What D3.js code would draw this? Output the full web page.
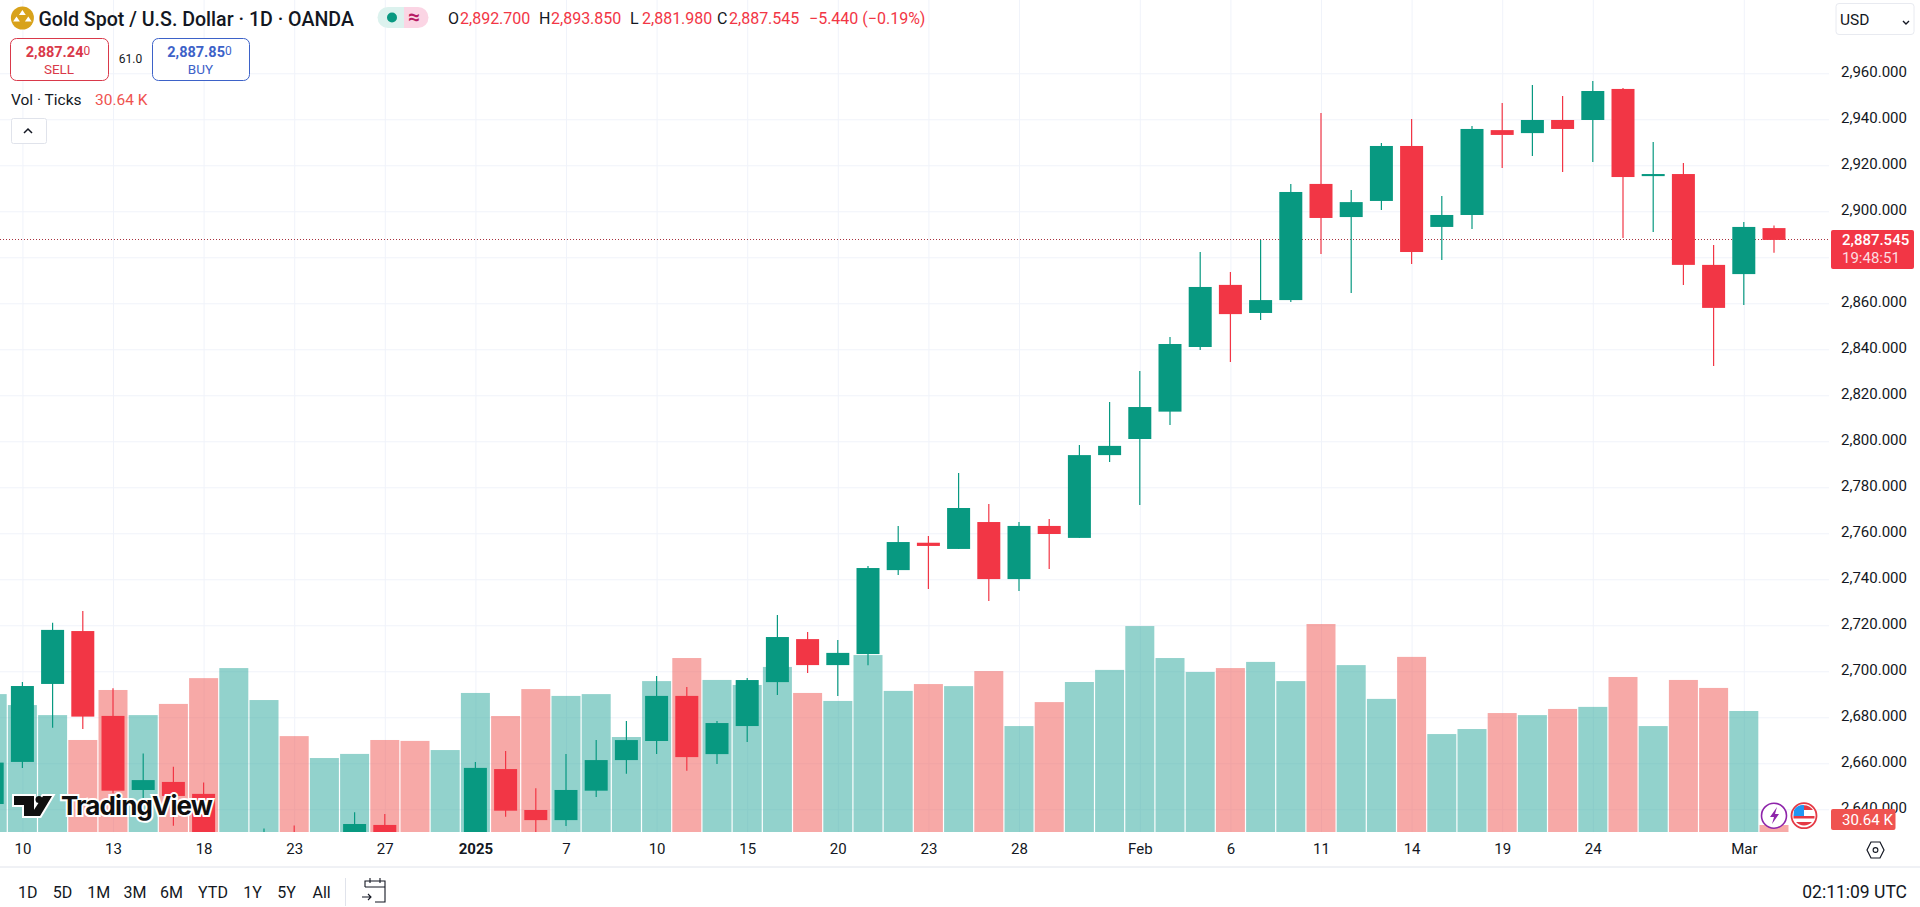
<!DOCTYPE html>
<html>
<head>
<meta charset="utf-8">
<title>Gold Spot / U.S. Dollar</title>
<script src="https://cdn.jsdelivr.net/npm/d3@7/dist/d3.min.js"></script>
<style>
    html, body { margin: 0; padding: 0; background: #fff; overflow: hidden; }
    svg { display: block; }
    text { font-family: Roboto, "Noto Sans", sans-serif; fill: #131722; }
</style>
</head>
<body>
<svg id="chart" width="1920" height="907"></svg>
<script>
// daily bars, 9 Dec 2024 to 4 Mar 2025
const dates = ["12-09","12-10","12-11","12-12","12-13","12-16","12-17","12-18","12-19","12-20",
    "12-23","12-24","12-26","12-27","12-30","12-31","01-02","01-03","01-06","01-07",
    "01-08","01-09","01-10","01-13","01-14","01-15","01-16","01-17","01-20","01-21",
    "01-22","01-23","01-24","01-27","01-28","01-29","01-30","01-31","02-03","02-04",
    "02-05","02-06","02-07","02-10","02-11","02-12","02-13","02-14","02-17","02-18",
    "02-19","02-20","02-21","02-24","02-25","02-26","02-27","02-28","03-03","03-04"];

const opens = [2642.3,2660.6,2694.5,2717.5,2680.6,2648.4,2651.9,2646.7,2586,2594,
    2622,2612,2619,2633.2,2621,2606,2624,2657.5,2639.7,2635.3,
    2648.1,2661.4,2669.7,2689.3,2664,2676.2,2695.3,2714,2702.7,2707.5,
    2744,2755.9,2753.2,2764.9,2740.1,2763.2,2758,2794,2801,2812.9,
    2841,2868,2855.8,2861.4,2911.9,2897.5,2904.5,2928.4,2893.2,2898.4,
    2935.3,2934,2939.7,2939.7,2953.2,2915.3,2916.2,2876.7,2872.7,2892.7];
const highs = [2664,2695.3,2721.1,2726.2,2692.6,2664.3,2658.5,2651.6,2610,2631.7,
    2633,2626,2638.7,2638,2627,2625,2660.6,2665.3,2649.1,2664,
    2670.1,2678.4,2698,2693.2,2678.4,2697.1,2724.5,2717.1,2713.6,2745.8,
    2763.2,2758.8,2786.2,2772.7,2764.9,2766.2,2798.4,2817.1,2830.6,2845.3,
    2882.3,2873.6,2887.5,2911.9,2942.7,2909.3,2929.7,2940.1,2906.7,2937.1,
    2947.1,2954.9,2950.1,2956.7,2953.6,2930.1,2921,2885.3,2895.3,2893.85];
const lows = [2638,2658,2675.5,2674.9,2647,2644.9,2632.9,2583,2583,2583,
    2600,2610,2615,2615,2597,2598,2618,2636.8,2624,2632.7,
    2645.3,2655.5,2664,2656.8,2659.7,2669.3,2689.7,2699.3,2689.3,2702.6,
    2741.9,2735.8,2753.2,2730.6,2734.9,2744.5,2758,2791,2772.3,2807.1,
    2839.7,2834.5,2852.7,2860.6,2881.4,2864.5,2900.6,2877.1,2878.8,2892.3,
    2918.8,2924,2917.1,2921.4,2888.4,2891,2868,2832.7,2859.3,2881.98];
const closes = [2660.3,2693.6,2718,2680.3,2648.1,2652.7,2645.8,2586,2594,2622,
    2612,2619,2633.6,2621,2606,2624,2658,2639.4,2635.3,2648.4,
    2661.4,2670.1,2689.3,2662.7,2677.5,2696.2,2714.9,2702.7,2708,2744.9,
    2756.2,2754.5,2771,2740.1,2763.2,2759.7,2794,2798,2814.9,2842.3,
    2867.1,2855.3,2861.4,2908.4,2897.1,2904,2928.4,2882.3,2898.4,2935.8,
    2933.2,2939.7,2935.8,2952.3,2914.9,2916.2,2876.7,2858,2893.2,2887.545];
const volumes = [604,556,512,403,622,512,561,674,718,578,
    420,324,342,403,399,359,609,508,626,596,
    604,416,661,762,666,644,723,609,574,775,
    618,648,639,705,464,569,657,710,902,762,
    701,718,745,661,911,731,583,767,429,451,
    521,512,539,548,679,464,666,631,530,30.64];

const tickDates = ["12-10","12-13","12-18","12-23","12-27","01-02","01-07","01-10","01-15","01-20",
    "01-23","01-28","02-03","02-06","02-11","02-14","02-19","02-24","03-03"];
const tickLabels = ["10","13","18","23","27","2025","7","10","15","20",
    "23","28","Feb","6","11","14","19","24","Mar"];
const priceTicks = [2960,2940,2920,2900,2880,2860,2840,2820,2800,2780,2760,2740,2720,2700,2680,2660,2640];
const lastPrice = 2887.545;

const rangeButtons = ["1D","5D","1M","3M","6M","YTD","1Y","5Y","All"];
const rangeCenters = [27.8,62.4,98.8,135,171.4,213,252.6,286.5,321.6];

const upColor = "#089981", downColor = "#f23645";
const volUp = "#26a69a", volDown = "#ef5350";
const gridColor = "#f0f3fa";

const chartRight = 1829, chartBottom = 832, axisLine = 867;
const bodyWidth = 23, volWidth = 29;

const svg = d3.select("#chart");

const x_scale = d3.scalePoint().domain(dates).range([-7.8, 1774]);
const y_scale = d3.scaleLinear().domain([2960, 2640]).range([73.3, 809.3]);
const vol_scale = d3.scaleLinear().domain([0, 1000]).range([chartBottom, chartBottom - 228.3]);

const bars = dates.map((d, i) => ({date: d, o: opens[i], h: highs[i], l: lows[i], c: closes[i], v: volumes[i]}));

svg.append("clipPath").attr("id", "pane").append("rect")
    .attr("width", chartRight).attr("height", chartBottom);

// grid + axes
const yAxis = svg.append("g")
    .attr("transform", "translate(" + chartRight + ",0)")
    .call(d3.axisRight(y_scale).tickValues(priceTicks).tickSize(-chartRight).tickPadding(12).tickFormat(d3.format(",.3f")));
yAxis.select(".domain").remove();
yAxis.selectAll("line").attr("stroke", gridColor);
yAxis.selectAll("text").attr("dy", "0.2em").style("font-size", "15px");
// the last price box covers this label
yAxis.selectAll("text").filter(d => d === 2880).remove();

const labelOf = d => tickLabels[tickDates.indexOf(d)];
const xAxis = svg.append("g")
    .attr("transform", "translate(0," + chartBottom + ")")
    .call(d3.axisBottom(x_scale).tickValues(tickDates).tickSize(-chartBottom).tickPadding(11).tickFormat(labelOf));
xAxis.select(".domain").remove();
xAxis.selectAll("line").attr("stroke", gridColor);
xAxis.selectAll("text")
    .style("font-size", "15px")
    .style("font-weight", d => labelOf(d) === "2025" ? "700" : "400");

svg.append("line").attr("x1", 0).attr("x2", 1920).attr("y1", axisLine).attr("y2", axisLine)
    .attr("stroke", "#e0e3eb").attr("stroke-width", 1);

const pane = svg.append("g").attr("clip-path", "url(#pane)");

// volume
pane.append("g").selectAll("rect")
    .data(bars)
    .enter()
    .append("rect")
    .attr("x", d => x_scale(d.date) - volWidth / 2)
    .attr("width", volWidth)
    .attr("y", d => vol_scale(d.v))
    .attr("height", d => chartBottom - vol_scale(d.v))
    .attr("fill", d => d.c >= d.o ? volUp : volDown)
    .attr("fill-opacity", 0.5);

// last price line
pane.append("line")
    .attr("x1", 0).attr("x2", chartRight)
    .attr("y1", y_scale(lastPrice)).attr("y2", y_scale(lastPrice))
    .attr("stroke", "#a8323f").attr("stroke-width", 1).attr("stroke-dasharray", "1 2")
    .attr("shape-rendering", "crispEdges");

// candles
const candles = pane.append("g").selectAll("g").data(bars).enter().append("g");
candles.append("line")
    .attr("x1", d => x_scale(d.date)).attr("x2", d => x_scale(d.date))
    .attr("y1", d => y_scale(d.h)).attr("y2", d => y_scale(d.l))
    .attr("stroke", d => d.c >= d.o ? upColor : downColor)
    .attr("stroke-width", 1.2);
candles.append("rect")
    .attr("x", d => x_scale(d.date) - bodyWidth / 2)
    .attr("width", bodyWidth)
    .attr("y", d => y_scale(Math.max(d.o, d.c)))
    .attr("height", d => Math.max(1.5, Math.abs(y_scale(d.o) - y_scale(d.c))))
    .attr("fill", d => d.c >= d.o ? upColor : downColor);

// TradingView logo
const logo = svg.append("g");
logo.append("path")
    .attr("d", "M14 796h20v20h-10v-11h-10z M43 796h9l-12 20h-10z")
    .attr("fill", "#0f0f0f").attr("stroke", "#fff").attr("stroke-width", 4).attr("paint-order", "stroke");
logo.append("circle").attr("cx", 39).attr("cy", 799.5).attr("r", 3.5).attr("fill", "#0f0f0f");
logo.append("text").attr("x", 61).attr("y", 815)
    .text("TradingView")
    .style("font-family", "Inter, Roboto, sans-serif")
    .style("font-size", "26px").style("font-weight", "700").style("letter-spacing", "-0.9px")
    .style("fill", "#0f0f0f").style("stroke", "#fff").style("stroke-width", "4px").style("paint-order", "stroke");

// header
svg.append("circle").attr("cx", 22.4).attr("cy", 18).attr("r", 11.5).attr("fill", "#d8a21b");
svg.append("path").attr("d", "M22.4 10l3.4 5h-6.8z M16.5 16.5l3.4 5h-6.8z M28.3 16.5l3.4 5h-6.8z").attr("fill", "#fff");
svg.append("text").attr("x", 38.5).attr("y", 25.5).text("Gold Spot / U.S. Dollar · 1D · OANDA")
    .style("font-size", "19.6px").style("font-weight", "500");

svg.append("path").attr("d", "M388 7h16v21h-16a10.5 10.5 0 0 1 0 -21z").attr("fill", "#dcf2ee");
svg.append("path").attr("d", "M404 7h14a10.5 10.5 0 0 1 0 21h-14z").attr("fill", "#fbd5e4");
svg.append("circle").attr("cx", 392).attr("cy", 17.5).attr("r", 5).attr("fill", upColor);
svg.append("text").attr("x", 414).attr("y", 24).attr("text-anchor", "middle").text("≈")
    .style("font-size", "21px").style("font-weight", "700").style("fill", "#b71c64");

const ohlcParts = [["O", 448, "2,892.700"], ["H", 539, "2,893.850"], ["L", 630, "2,881.980"], ["C", 717, "2,887.545"]];
ohlcParts.forEach(p => {
    svg.append("text").attr("x", p[1]).attr("y", 24).text(p[0]).style("font-size", "16px");
    svg.append("text").attr("x", p[1] + 12).attr("y", 24).text(p[2]).style("font-size", "16px").style("fill", downColor);
});
svg.append("text").attr("x", 809).attr("y", 24).text("−5.440 (−0.19%)").style("font-size", "16px").style("fill", downColor);

// sell / buy boxes
const tradeBox = function(x, w, color, whole, label) {
    svg.append("rect").attr("x", x + 0.5).attr("y", 38.5).attr("width", w).attr("height", 42).attr("rx", 6)
        .attr("fill", "#fff").attr("stroke", color);
    const t = svg.append("text").attr("x", x + w / 2 - 1).attr("y", 57).attr("text-anchor", "middle")
        .style("font-size", "14.5px").style("fill", color);
    t.append("tspan").text(whole).style("font-weight", "700").style("fill", color);
    t.append("tspan").text("0").attr("dy", -2).style("font-size", "12px").style("fill", color);
    svg.append("text").attr("x", x + w / 2).attr("y", 74).attr("text-anchor", "middle").text(label)
        .style("font-size", "13.5px").style("fill", color);
};
tradeBox(10, 98, "#d9394a", "2,887.24", "SELL");
tradeBox(152, 97, "#3d62c8", "2,887.85", "BUY");
svg.append("text").attr("x", 130.5).attr("y", 63).attr("text-anchor", "middle").text("61.0").style("font-size", "12px");

svg.append("text").attr("x", 11).attr("y", 105).text("Vol · Ticks").style("font-size", "15.5px");
svg.append("text").attr("x", 95).attr("y", 105).text("30.64 K").style("font-size", "15.5px").style("fill", volDown);
svg.append("rect").attr("x", 11.5).attr("y", 118.5).attr("width", 35).attr("height", 25).attr("rx", 2)
    .attr("fill", "#fff").attr("stroke", "#e0e3eb");
svg.append("path").attr("d", "M24 133l4 -4 4 4").attr("fill", "none").attr("stroke", "#131722").attr("stroke-width", 1.5);

// right side labels
svg.append("rect").attr("x", 1836).attr("y", 3.5).attr("width", 78).attr("height", 31).attr("rx", 3)
    .attr("fill", "#fff").attr("stroke", "#e8eaf0");
svg.append("text").attr("x", 1840).attr("y", 25).text("USD").style("font-size", "15.5px");
svg.append("path").attr("d", "M1903 21l3 3 3 -3").attr("fill", "none").attr("stroke", "#131722").attr("stroke-width", 1.4);

svg.append("rect").attr("x", 1831).attr("y", 230).attr("width", 83).attr("height", 39).attr("rx", 2).attr("fill", downColor);
svg.append("text").attr("x", 1842).attr("y", 245).text(d3.format(",.3f")(lastPrice))
    .style("font-size", "15px").style("font-weight", "500").style("fill", "#fff");
svg.append("text").attr("x", 1842).attr("y", 263).text("19:48:51")
    .style("font-size", "15px").style("fill", "#fcdde0");

svg.append("rect").attr("x", 1831).attr("y", 809).attr("width", 64.5).attr("height", 21).attr("rx", 2).attr("fill", volDown);
svg.append("text").attr("x", 1842).attr("y", 824.5).text("30.64 K").style("font-size", "15px").style("fill", "#fff");

// event icons
svg.append("circle").attr("cx", 1774).attr("cy", 815.7).attr("r", 12.5).attr("fill", "#fff").attr("stroke", "#8e24aa").attr("stroke-width", 1.6);
svg.append("path").attr("d", "M1777 807l-7 10h4l-2 7 7 -10h-4z").attr("fill", "#8e24aa");
svg.append("circle").attr("cx", 1804).attr("cy", 815.7).attr("r", 12.5).attr("fill", "#fff").attr("stroke", "#e53945").attr("stroke-width", 1.8);
svg.append("path").attr("d", "M1795 810a11 11 0 0 1 18 0z M1793.5 816h21v2.5h-21z M1796 822h16a11 11 0 0 1 -16 0z").attr("fill", "#e53945");
svg.append("path").attr("d", "M1794 810a11 11 0 0 1 10 -5v11h-10.5z").attr("fill", "#2196f3");

// hexagon settings
svg.append("path").attr("d", "M1867 850l4 -8h9l4 8 -4 8h-9z").attr("fill", "none").attr("stroke", "#131722").attr("stroke-width", 1.2);
svg.append("circle").attr("cx", 1875.5).attr("cy", 850).attr("r", 2.4).attr("fill", "none").attr("stroke", "#131722").attr("stroke-width", 1.1);

// bottom toolbar
svg.append("g").selectAll("text")
    .data(rangeButtons)
    .enter()
    .append("text")
    .attr("x", (d, i) => rangeCenters[i])
    .attr("y", 897.5)
    .attr("text-anchor", "middle")
    .text(d => d)
    .style("font-size", "16px");
svg.append("line").attr("x1", 345.5).attr("x2", 345.5).attr("y1", 878).attr("y2", 906).attr("stroke", "#e0e3eb");
svg.append("path")
    .attr("d", "M365 887v-6h20v21h-10 M365 887h20 M370 878v5 M380 878v5 M362 897h9 M368 894l3 3 -3 3")
    .attr("fill", "none").attr("stroke", "#131722").attr("stroke-width", 1.1);
svg.append("text").attr("x", 1907).attr("y", 898).attr("text-anchor", "end").text("02:11:09 UTC").style("font-size", "17.5px");
</script>
</body>
</html>
